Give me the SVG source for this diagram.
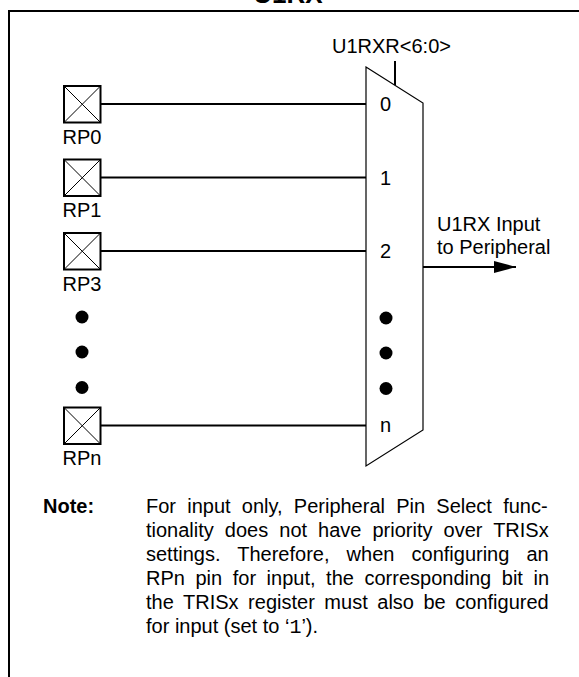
<svg xmlns="http://www.w3.org/2000/svg" width="579" height="677" viewBox="0 0 579 677">
<style>
text{font-family:"Liberation Sans",Arial,sans-serif;fill:#000}
.lbl{font-size:20px}
.note{font-size:20px}
.pin{fill:#fff;stroke:#000;stroke-width:2}
.x{stroke:#000;stroke-width:1}
.wire{stroke:#000;stroke-width:2;fill:none}
.dot{fill:#000}
</style>
<defs>
<marker id="ah" markerWidth="24" markerHeight="12" refX="22" refY="6" orient="auto" markerUnits="userSpaceOnUse">
<path d="M0,0 L22,6 L0,12 Z" fill="#000"/>
</marker>
</defs>
<rect width="579" height="677" fill="#fff"/>
<text x="288" y="3" font-size="26" font-weight="bold" text-anchor="middle">U1RX</text>
<g id="frame">
<path d="M9,677 V11 H579" fill="none" stroke="#000" stroke-width="2"/>
</g>
<g id="connectors">
<line class="wire" x1="101" y1="104" x2="366" y2="104"/>
<line class="wire" x1="101" y1="177.5" x2="366" y2="177.5"/>
<line class="wire" x1="101" y1="251" x2="366" y2="251"/>
<line class="wire" x1="101" y1="425.5" x2="366" y2="425.5"/>
<line class="wire" x1="395" y1="61" x2="395" y2="85.5"/>
<line class="wire" x1="423" y1="267" x2="516" y2="267" marker-end="url(#ah)"/>
</g>
<g id="pin-rp0">
<rect class="pin" x="64" y="86" width="36.5" height="36.5"/>
<path class="x" d="M64,86 L100.5,122.5 M100.5,86 L64,122.5"/>
<text class="lbl" x="62.5" y="143.5">RP0</text>
</g>
<g id="pin-rp1">
<rect class="pin" x="64" y="159.5" width="36.5" height="36.5"/>
<path class="x" d="M64,159.5 L100.5,196 M100.5,159.5 L64,196"/>
<text class="lbl" x="62.5" y="217">RP1</text>
</g>
<g id="pin-rp3">
<rect class="pin" x="64" y="233" width="36.5" height="36.5"/>
<path class="x" d="M64,233 L100.5,269.5 M100.5,233 L64,269.5"/>
<text class="lbl" x="62.5" y="290.5">RP3</text>
</g>
<g id="pin-dots">
<circle class="dot" cx="82" cy="317" r="6.5"/>
<circle class="dot" cx="82" cy="352" r="6.5"/>
<circle class="dot" cx="82" cy="387.5" r="6.5"/>
</g>
<g id="pin-rpn">
<rect class="pin" x="64" y="407.5" width="36.5" height="36.5"/>
<path class="x" d="M64,407.5 L100.5,444 M100.5,407.5 L64,444"/>
<text class="lbl" x="62.5" y="465">RPn</text>
</g>
<g id="mux">
<polygon points="366,67 423,103 423,430 366,466" fill="#fff" stroke="#000" stroke-width="1.2"/>
<text class="lbl" x="380" y="111">0</text>
<text class="lbl" x="380" y="184.5">1</text>
<text class="lbl" x="380" y="258">2</text>
<circle class="dot" cx="386" cy="318" r="6.5"/>
<circle class="dot" cx="386" cy="353" r="6.5"/>
<circle class="dot" cx="386" cy="388.5" r="6.5"/>
<text class="lbl" x="380" y="432">n</text>
</g>
<g id="select-label">
<text class="lbl" x="332" y="52.5">U1RXR&lt;6:0&gt;</text>
</g>
<g id="output-label">
<text class="lbl" x="437" y="230.5">U1RX Input</text>
<text class="lbl" x="437" y="253.5">to Peripheral</text>
</g>
<g id="note">
<text class="note" x="43" y="513" font-weight="bold">Note:</text>
<text class="note" x="146" y="513" word-spacing="5.67">For input only, Peripheral Pin Select func-</text>
<text class="note" x="146" y="537" word-spacing="5.48">tionality does not have priority over TRISx</text>
<text class="note" x="146" y="561" word-spacing="11.55">settings. Therefore, when configuring an</text>
<text class="note" x="146" y="585" word-spacing="5">RPn pin for input, the corresponding bit in</text>
<text class="note" x="146" y="609" word-spacing="4">the TRISx register must also be configured</text>
<text class="note" x="146" y="633">for input (set to ‘<tspan font-family="'Liberation Mono',monospace">1</tspan>’).</text>
</g>
</svg>
